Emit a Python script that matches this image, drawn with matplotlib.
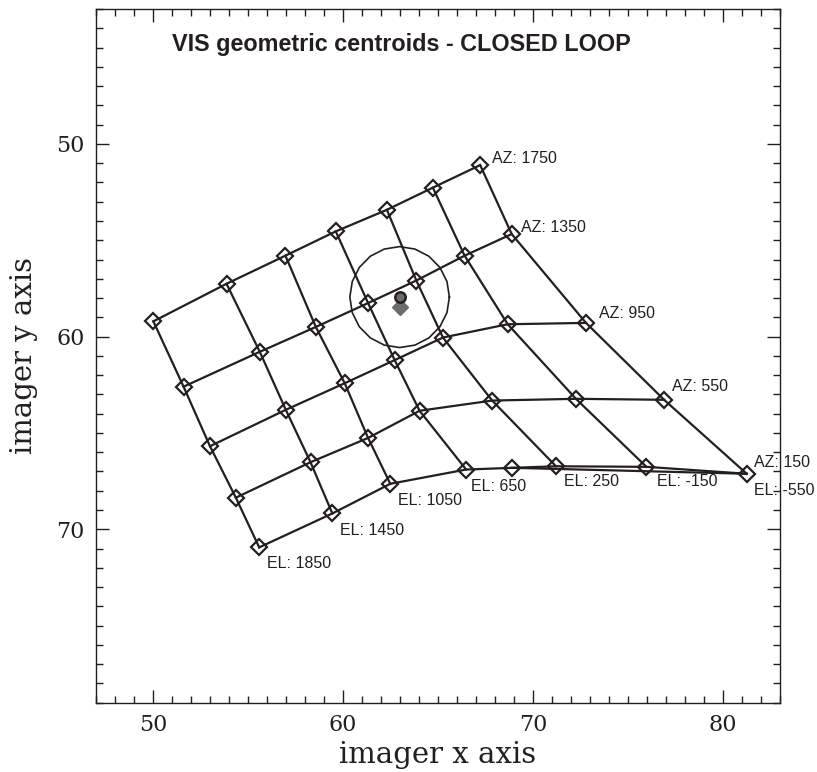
import matplotlib
matplotlib.use("Agg")
import matplotlib.pyplot as plt
import numpy as np
from matplotlib.ticker import MultipleLocator

# ---------------- data ----------------
az_values = [1750, 1350, 950, 550, 150]
el_values = [1850, 1450, 1050, 650, 250, -150, -550]

# centroid positions, one list per AZ row, ordered by EL (1850 ... -550)
x_az1750 = [50.02, 53.87, 56.97, 59.62, 62.31, 64.73, 67.22]
y_az1750 = [59.21, 57.26, 55.80, 54.54, 53.42, 52.27, 51.10]
x_az1350 = [51.61, 55.62, 58.57, 61.32, 63.86, 66.40, 68.88]
y_az1350 = [62.60, 60.79, 59.50, 58.26, 57.09, 55.80, 54.68]
x_az950 = [53.00, 56.99, 60.09, 62.72, 65.26, 68.67, 72.79]
y_az950 = [65.69, 63.80, 62.42, 61.22, 60.05, 59.36, 59.29]
x_az550 = [54.36, 58.29, 61.32, 64.03, 67.85, 72.26, 76.90]
y_az550 = [68.36, 66.52, 65.26, 63.85, 63.32, 63.23, 63.28]
x_az150 = [55.59, 59.44, 62.49, 66.48, 71.21, 75.97, 81.25]
y_az150 = [70.94, 69.18, 67.64, 66.90, 66.73, 66.76, 67.12]

# extra (repeated) measurement on the bottom row
extra_x = [68.88]
extra_y = [66.81]

# reference centre and tolerance circle
center_circle = (62.98, 57.95)
center_diamond = (63.02, 58.47)
ring_radius = 2.62

grid_x = np.array([x_az1750, x_az1350, x_az950, x_az550, x_az150])
grid_y = np.array([y_az1750, y_az1350, y_az950, y_az550, y_az150])

# label offsets (points) – layout only
az_offsets = [(8.6, 1.7), (6.8, 1.7), (9.6, 3.6), (6.0, 6.5), (5.3, 4.8)]
el_offsets = [(5.3, -15.1), (5.3, -15.6), (5.5, -15.6), (3.6, -15.1),
              (6.0, -14.4), (7.9, -13.5), (5.3, -15.6)]

# ---------------- figure ----------------
ink = "#231f20"
fig = plt.figure(figsize=(8.17, 7.72), dpi=100)
ax = fig.add_axes([0.1175, 0.0898, 0.8372, 0.8985])

lw = 1.6
# AZ rows
for r in range(grid_x.shape[0]):
    ax.plot(grid_x[r], grid_y[r], color=ink, lw=lw, zorder=2)
# EL columns
for c in range(grid_x.shape[1]):
    ax.plot(grid_x[:, c], grid_y[:, c], color=ink, lw=lw, zorder=2)
# extra measurement line to the last bottom-row point
ax.plot([extra_x[0], x_az150[-1]], [extra_y[0], y_az150[-1]], color=ink, lw=lw, zorder=2)

# markers
ax.plot(grid_x.ravel(), grid_y.ravel(), ls="none", marker="D", ms=8.5,
        mfc="none", mec=ink, mew=1.6, zorder=3)
ax.plot(extra_x, extra_y, ls="none", marker="D", ms=8.5,
        mfc="none", mec=ink, mew=1.6, zorder=3)

# tolerance circle (polygonal, as in the original)
t = np.linspace(0, 2 * np.pi, 21)
ax.plot(center_circle[0] + ring_radius * np.cos(t),
        center_circle[1] + ring_radius * np.sin(t), color=ink, lw=1.2, zorder=2)

ax.plot([center_diamond[0]], [center_diamond[1]], marker="D", ms=8,
        mfc="#6d6b6c", mec="#6d6b6c", ls="none", zorder=4)
ax.plot([center_circle[0]], [center_circle[1]], marker="o", ms=7.5,
        mfc="#6d6b6c", mec=ink, mew=1.8, ls="none", zorder=5)

# labels
lab_font = dict(family="Liberation Sans", fontsize=11.5, color=ink)
for i, az in enumerate(az_values):
    ax.annotate(f"AZ: {az}", (grid_x[i, -1], grid_y[i, -1]),
                xytext=az_offsets[i], textcoords="offset points",
                ha="left", va="baseline", **lab_font)
for j, el in enumerate(el_values):
    ax.annotate(f"EL: {el}", (grid_x[-1, j], grid_y[-1, j]),
                xytext=el_offsets[j], textcoords="offset points",
                ha="left", va="baseline", **lab_font)

ax.text(0.1107, 0.9395, "VIS geometric centroids - CLOSED LOOP",
        transform=ax.transAxes, fontsize=16.8, fontweight="bold",
        family="Liberation Sans", color=ink, va="baseline", ha="left")

# axes
ax.set_xlim(47, 83)
ax.set_ylim(79, 43)
ax.xaxis.set_major_locator(MultipleLocator(10))
ax.xaxis.set_minor_locator(MultipleLocator(1))
ax.yaxis.set_major_locator(MultipleLocator(10))
ax.yaxis.set_minor_locator(MultipleLocator(1))
ax.tick_params(which="both", direction="in", top=True, right=True,
               color=ink, width=1.0)
ax.tick_params(which="major", length=9.5, pad=8, labelsize=16,
               labelcolor=ink)
ax.tick_params(which="minor", length=4.8)
for lab in ax.get_xticklabels() + ax.get_yticklabels():
    lab.set_family("DejaVu Serif")
for s in ax.spines.values():
    s.set_linewidth(1.0)
    s.set_color(ink)

ax.set_xlabel("imager x axis", family="DejaVu Serif", fontsize=21, color=ink, labelpad=4)
ax.set_ylabel("imager y axis", family="DejaVu Serif", fontsize=21, color=ink, labelpad=13)

fig.savefig("out.png", dpi=100)
